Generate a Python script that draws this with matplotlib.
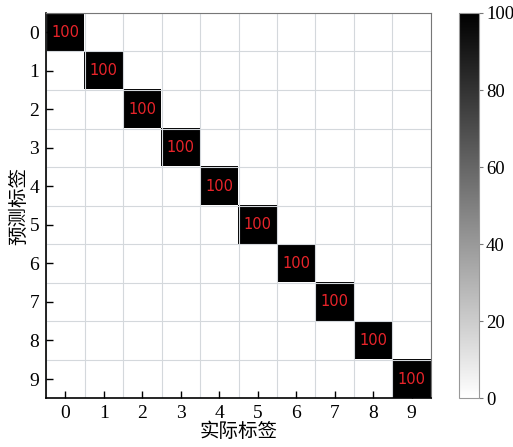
import numpy as np
import matplotlib
matplotlib.use('Agg')
from matplotlib import pyplot as plt

labels = ['0', '1', '2', '3', '4', '5', '6', '7', '8', '9']
correct = [100, 100, 100, 100, 100, 100, 100, 100, 100, 100]

cm = np.diag(correct)

plt.rcParams['font.family'] = ['Liberation Serif', 'Noto Sans CJK SC']

fig = plt.figure(figsize=(5.13, 4.47), dpi=100)
ax = fig.add_axes([0.09, 0.109, 0.750, 0.862])
cax = fig.add_axes([0.895, 0.109, 0.039, 0.862])

im = ax.imshow(cm, cmap='gray_r', vmin=0, vmax=100, aspect='auto')

# grid lines on cell borders
ax.set_xticks(np.arange(-0.5, 10, 1), minor=True)
ax.set_yticks(np.arange(-0.5, 10, 1), minor=True)
ax.grid(which='minor', color='#d4d8dc', linewidth=0.8)
ax.tick_params(which='minor', length=0)

ax.set_xticks(range(len(labels)))
ax.set_yticks(range(len(labels)))
ax.set_xticklabels(labels, fontsize=14)
ax.set_yticklabels(labels, fontsize=14)
ax.tick_params(direction='in', length=5, width=1, pad=5)

for i in range(len(labels)):
    for j in range(len(labels)):
        if cm[i, j] > 0:
            ax.text(j, i, str(cm[i, j]), ha='center', va='center',
                    color='#e8242a', fontsize=10.5, family='DejaVu Sans')

ax.set_xlabel('实际标签', fontsize=14, family=['Noto Sans CJK SC'], labelpad=-1)
ax.set_ylabel('预测标签', fontsize=14, family=['Noto Sans CJK SC'], labelpad=0)

ax.spines['top'].set_color('#777777')
ax.spines['right'].set_color('#777777')
ax.spines['left'].set_linewidth(1.2)
ax.spines['bottom'].set_linewidth(1.2)

cb = fig.colorbar(im, cax=cax)
cb.set_ticks([0, 20, 40, 60, 80, 100])
cb.ax.tick_params(labelsize=13.5, direction='out', length=3, pad=2, color='#777777')
cb.outline.set_edgecolor('#999999')

plt.savefig('out.png', dpi=100)
